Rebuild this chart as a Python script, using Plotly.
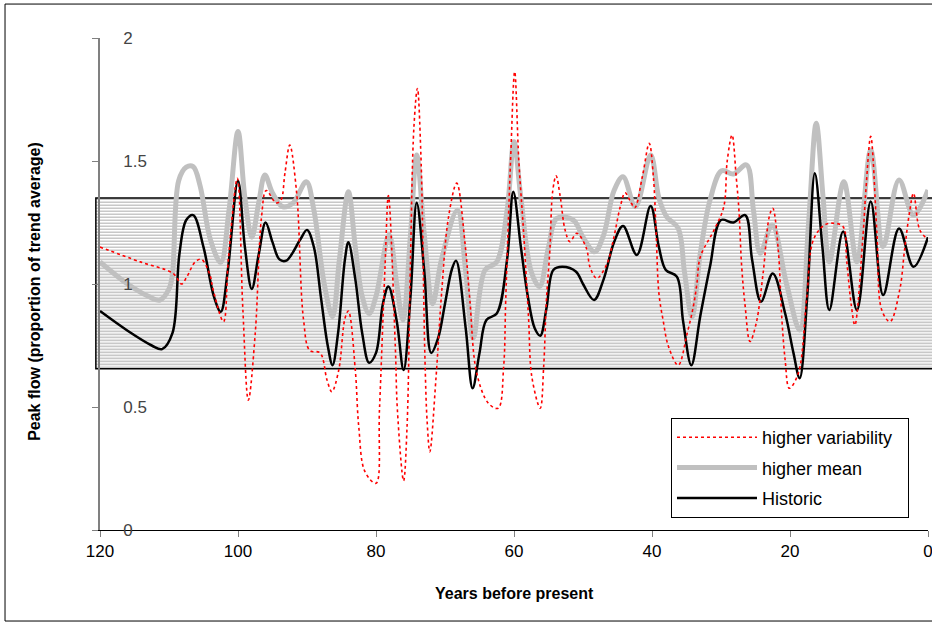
import plotly.graph_objects as go

# values (years before present, proportion of trend average)
hist_years = [120, 116, 112.5, 111, 109.5, 108.5, 107.5, 106.5, 105, 103.5, 102.5, 101.5, 100, 99, 98,
              97, 96, 95, 94, 93, 91, 90, 89, 88, 87, 86.3, 85.5, 84.5, 84, 83, 82, 81, 80, 79, 78.2,
              77, 76, 75, 74.1, 73, 72, 71, 70, 69, 68.4, 67, 66, 65, 64, 62.5, 61, 60.1, 59, 58,
              57, 56.2, 55.3, 54.3, 53, 51, 50, 48.4, 47, 45.5, 44.2, 42.2, 40.2, 39, 38, 36.4, 35.5,
              34.3, 33, 31.6, 30, 28.2, 26.5, 25.5, 24.2, 22.5, 20.7, 19.5, 18.6, 17.5, 16.4, 15.3,
              14.3, 12.3, 10.3, 8.3, 6.5, 4.2, 2.1, 0]
hist_vals = [0.89, 0.81, 0.75, 0.735, 0.80, 1.12, 1.26, 1.28, 1.15, 0.95, 0.887, 1.05, 1.42, 1.15, 0.98,
             1.12, 1.25, 1.17, 1.10, 1.095, 1.18, 1.22, 1.15, 0.95, 0.75, 0.67, 0.80, 1.10, 1.17, 1.02,
             0.80, 0.68, 0.72, 0.92, 0.99, 0.85, 0.65, 0.95, 1.33, 1.05, 0.72, 0.78, 0.92, 1.06, 1.095,
             0.82, 0.576, 0.72, 0.854, 0.88, 1.1, 1.375, 1.15, 0.95, 0.82, 0.79, 0.9, 1.057, 1.07, 1.05,
             1.0, 0.935, 1.02, 1.17, 1.236, 1.118, 1.317, 1.15, 1.057, 1.03, 0.85, 0.67, 0.87, 1.07,
             1.26, 1.25, 1.28, 1.1, 0.928, 1.043, 0.88, 0.72, 0.617, 0.95, 1.45, 1.15, 0.894, 1.213,
             0.894, 1.335, 0.955, 1.226, 1.07, 1.19]

mean_years = [120, 116, 113, 111.3, 110, 109.5, 108.6, 107.5, 106.5, 105.5, 104, 102.5, 101.3, 100, 99,
              98, 97, 96.1, 95, 93.5, 92, 90.1, 89, 87.5, 86.3, 85.3, 84, 83, 82, 81, 80, 78.1, 77,
              76.1, 75, 74.1, 73, 71.8, 70.5, 68.2, 67, 65.9, 64.2, 62.5, 61, 60, 59, 57.5, 56.3, 55,
              53.8, 51.4, 50, 48.3, 47, 45.5, 44.2, 42.4, 40.2, 39, 37.9, 36.2, 35.3, 34.2, 33, 31.6,
              29.9, 28.2, 26.3, 25.3, 24.3, 22.6, 20.5, 18.6, 17.3, 16.2, 15.2, 14.3, 12.2, 10.3, 8.3,
              6.5, 4.2, 2.1, 0]
mean_vals = [1.09, 1.0, 0.95, 0.935, 0.98, 1.04, 1.42, 1.475, 1.477, 1.40, 1.18, 1.088, 1.3, 1.62, 1.35,
             1.19, 1.33, 1.443, 1.37, 1.314, 1.33, 1.416, 1.3, 1.0, 0.867, 1.1, 1.375, 1.15, 0.95, 0.88,
             0.95, 1.2, 1.0, 0.854, 1.2, 1.524, 1.2, 0.92, 1.1, 1.30, 1.05, 0.78, 1.057, 1.09, 1.3,
             1.578, 1.35, 1.05, 0.99, 1.15, 1.267, 1.26, 1.19, 1.131, 1.2, 1.38, 1.436, 1.314, 1.524,
             1.35, 1.274, 1.226, 1.05, 0.867, 1.125, 1.34, 1.46, 1.447, 1.484, 1.3, 1.125, 1.24, 1.0,
             0.813, 1.25, 1.653, 1.35, 1.09, 1.416, 1.09, 1.545, 1.152, 1.423, 1.28, 1.382]

var_years = [120, 114.2, 109.4, 108.2, 107.4, 106.2, 105.3, 104.1, 103.6, 102.1, 101.4, 100.1, 99.3,
             98.5, 97.5, 96.6, 95.9, 94.5, 93.8, 93.2, 92.5, 91.5, 90.5, 89.6, 88.1, 87.1, 86.4, 85.4,
             84.5, 84, 83, 82.5, 81.6, 80, 79.5, 78.7, 78.2, 77.2, 76.9, 76, 75.5, 75, 74.5, 74, 73.5,
             72.9, 72.6, 72.2, 71.3, 70.5, 69.5, 68.3, 67.1, 66.4, 65.4, 63.7, 62.3, 61.5, 61.2, 60.5,
             59.9, 59.3, 58.6, 57.9, 57.4, 56.2, 55.7, 55.3, 54.8, 54.4, 53.9, 53.3, 52.6, 51.9, 50.9,
             49.5, 49, 48, 46.5, 45.6, 44.6, 43.9, 43.2, 42.5, 41.4, 40.4, 39.8, 39.4, 39, 38.4, 37.6,
             36.2, 34.9, 34, 33.5, 33, 31, 29.6, 29.1, 28.4, 27.8, 27.4, 27, 26.5, 25.8, 24.9, 23.9,
             23, 22.5, 21.7, 21.2, 20.7, 20.1, 18.8, 17.6, 16.6, 15, 13.7, 12.3, 11.8, 11.1, 10.6, 9.4,
             9, 8.3, 7.4, 6.7, 5.5, 4.1, 3.4, 2.7, 2.1, 1.2, 0.2]
var_vals = [1.15, 1.09, 1.043, 1.0, 1.03, 1.09, 1.1, 1.04, 0.976, 0.847, 1.1, 1.43, 0.9,
            0.528, 0.8, 1.27, 1.38, 1.33, 1.34, 1.45, 1.565, 1.37, 0.854, 0.73, 0.72, 0.61, 0.562, 0.65,
            0.86, 0.89, 0.65, 0.42, 0.237, 0.19, 0.488, 1.064, 1.36, 0.745, 0.488, 0.2, 0.42, 1.1, 1.64,
            1.795, 1.53, 0.69, 0.447, 0.318, 0.62, 0.96, 1.27, 1.41, 1.165, 0.935, 0.637, 0.515, 0.495,
            0.664, 0.935, 1.5, 1.863, 1.5, 1.207, 0.867, 0.62, 0.495, 0.664, 0.935, 1.138, 1.375, 1.44,
            1.355, 1.22, 1.172, 1.206, 1.145, 1.07, 1.023, 1.084, 1.18, 1.314, 1.371, 1.34, 1.31, 1.436,
            1.572, 1.436, 1.206, 0.962, 0.854, 0.745, 0.67, 0.8, 0.91, 1.0, 1.11, 1.22, 1.314, 1.5,
            1.606, 1.436, 1.3, 1.07, 0.91, 0.766, 0.84, 1.043, 1.274, 1.308, 1.138, 0.867, 0.69, 0.576,
            0.637, 0.935, 1.18, 1.24, 1.247, 1.233, 1.1, 0.91, 0.833, 1.206, 1.382, 1.6, 1.206, 0.894,
            0.847, 0.976, 1.138, 1.287, 1.369, 1.22, 1.186]

band_low = 0.655
band_high = 1.35

x_ticks = [120, 100, 80, 60, 40, 20, 0]
y_ticks = [0, 0.5, 1, 1.5, 2]
y_tick_text = ["0", "0.5", "1", "1.5", "2"]

FONT = "Liberation Sans, Arial, sans-serif"

fig = go.Figure()

fig.add_trace(go.Scatter(x=mean_years, y=mean_vals, name="higher mean", mode="lines",
                         line=dict(color="#c0c0c0", width=5, shape="spline", smoothing=1.0),
                         legendrank=2, legendgroup="b"))
fig.add_trace(go.Scatter(x=hist_years, y=hist_vals, name="Historic", mode="lines",
                         line=dict(color="black", width=2.5, shape="spline", smoothing=1.0),
                         legendrank=3, legendgroup="c"))
fig.add_trace(go.Scatter(x=var_years, y=var_vals, name="higher variability\u00a0\u00a0", mode="lines",
                         line=dict(color="red", width=1.6, dash="dot", shape="spline", smoothing=1.0),
                         legendrank=1, legendgroup="a"))

# hatched band
shapes = [dict(type="rect", xref="paper", yref="y", x0=-0.005, x1=1.01, y0=band_low, y1=band_high,
               fillcolor="white", line=dict(width=0), layer="below")]
step = 0.0122
yy = band_low + step / 2
while yy < band_high:
    shapes.append(dict(type="line", xref="paper", yref="y", x0=-0.005, x1=1.01, y0=yy, y1=yy,
                       line=dict(color="#c8c8c8", width=1.6), layer="below"))
    yy += step
shapes.append(dict(type="rect", xref="paper", yref="y", x0=-0.005, x1=1.01, y0=band_low, y1=band_high,
                   line=dict(color="black", width=1.5), layer="below"))
# outer frame
shapes.append(dict(type="rect", xref="paper", yref="paper", x0=-0.1147, x1=1.01, y0=-0.185, y1=1.069,
                   line=dict(color="black", width=1)))

fig.update_layout(
    width=932, height=626,
    margin=dict(l=100, r=4, t=38, b=96),
    paper_bgcolor="white", plot_bgcolor="white",
    font=dict(family=FONT, size=17, color="black"),
    showlegend=True,
    legend=dict(x=0.6896, y=0.2276, xanchor="left", yanchor="top",
                bgcolor="white", bordercolor="black", borderwidth=1, itemwidth=80,
                font=dict(size=18, family=FONT), traceorder="grouped", tracegroupgap=4),
    shapes=shapes,
    annotations=[
        dict(text="<b>Peak flow (proportion of trend average)</b>", xref="paper", yref="paper",
             x=-0.0785, y=0.484, xanchor="center", yanchor="middle", textangle=-90,
             showarrow=False, font=dict(size=16, family=FONT)),
        dict(text="<b>Years before present</b>", xref="paper", yref="paper",
             x=0.5, y=-0.13, xanchor="center", yanchor="middle",
             showarrow=False, font=dict(size=16, family=FONT)),
    ],
)

fig.update_xaxes(range=[120, 0], tickvals=x_ticks, ticks="outside", ticklen=6, tickcolor="#808080",
                 showline=True, linecolor="black", linewidth=1, showgrid=False, zeroline=False,
                 tickfont=dict(size=17), ticklabeloverflow="allow", automargin=False)
fig.update_yaxes(range=[0, 2], tickvals=y_ticks, ticktext=y_tick_text, ticks="outside", ticklen=6,
                 tickcolor="#808080", ticklabelposition="inside", ticklabelstandoff=24,
                 ticklabeloverflow="allow", automargin=False, showline=True, linecolor="#808080",
                 linewidth=1.5, showgrid=False, zeroline=False, tickfont=dict(size=17))

fig.write_html("out.html", config={"displayModeBar": False},
               post_script="document.body.style.margin='0';")
